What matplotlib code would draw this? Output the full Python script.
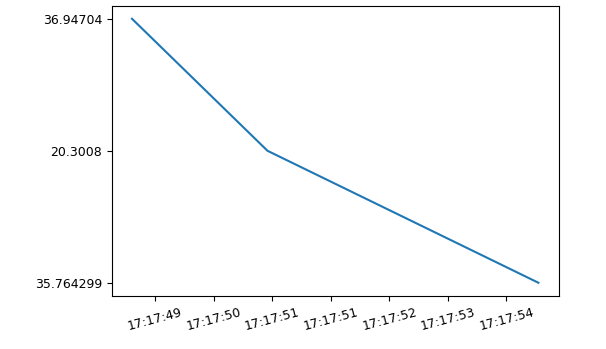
import datetime as dt
import matplotlib
matplotlib.use('Agg')
import matplotlib.pyplot as plt
import matplotlib.dates as mdates
import matplotlib.ticker as mticker

# readings, newest first (values were stored as text, so the y axis is categorical)
times = ['2021-01-01 17:17:55', '2021-01-01 17:17:51', '2021-01-01 17:17:49']
values = ['35.764299', '20.3008', '36.94704']

x = [dt.datetime.strptime(t, '%Y-%m-%d %H:%M:%S') for t in times]

plt.rcParams['font.size'] = 9

fig = plt.figure(figsize=(6.06, 3.49), dpi=100)
ax = fig.add_axes([0.1843, 0.152, 0.7377, 0.832])
ax.plot(x, values, color='#1f77b4', linewidth=1.5)

# plain float locator on the date numbers (1e-5 day steps), time formatter
ax.xaxis.set_major_locator(mticker.MultipleLocator(1e-5))
ax.xaxis.set_major_formatter(mdates.DateFormatter('%H:%M:%S'))
plt.setp(ax.get_xticklabels(), rotation=15, ha='center')

fig.savefig('out.png', dpi=100)
